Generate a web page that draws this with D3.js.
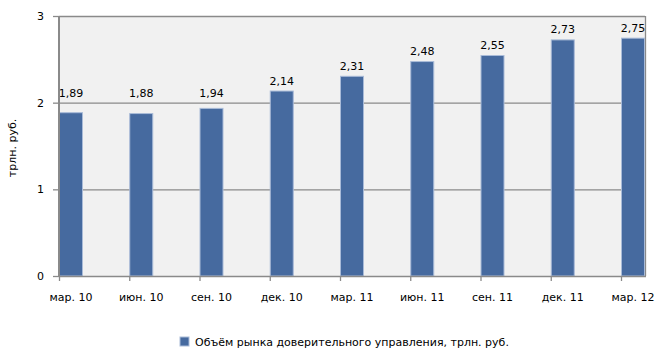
<!DOCTYPE html>
<html><head><meta charset="utf-8">
<script src="https://cdn.jsdelivr.net/npm/d3@7"></script>
<style>body{margin:0;background:#fff}svg{display:block}text{font-family:"DejaVu Sans",sans-serif;font-size:11px;fill:#000}</style>
</head><body>
<script>
const categories = ["мар. 10","июн. 10","сен. 10","дек. 10","мар. 11","июн. 11","сен. 11","дек. 11","мар. 12"];
const values = [1.89,1.88,1.94,2.14,2.31,2.48,2.55,2.73,2.75];
const yTicks = [0,1,2,3];
const seriesName = "Объём рынка доверительного управления, трлн. руб.";
const yTitle = "трлн. руб.";

const W=666,H=356;
const pL=59,pR=645,pT=16,pB=276,barW=24;
const svg=d3.select("body").append("svg").attr("width",W).attr("height",H);
const x=d3.scalePoint().domain(categories).range([pL,pR-barW]);
const y=d3.scaleLinear().domain([0,3]).range([pB,pT]);

svg.append("rect").attr("x",pL).attr("y",pT).attr("width",pR-pL).attr("height",pB-pT).attr("fill","#f1f1f1");
// gridlines
svg.selectAll(".grid").data(yTicks.filter(d=>d>0)).enter().append("line")
 .attr("x1",pL).attr("x2",pR).attr("y1",d=>y(d)+0.5).attr("y2",d=>y(d)+0.5)
 .attr("stroke","#8a8a8a").attr("stroke-width",1.3);
// right border
svg.append("line").attr("x1",pR+0.5).attr("x2",pR+0.5).attr("y1",pT).attr("y2",pB).attr("stroke","#8a8a8a").attr("stroke-width",1.3);

// bars
svg.selectAll(".bar").data(values).enter().append("rect")
 .attr("x",(d,i)=>x(categories[i])+0.5).attr("y",d=>y(d)+0.5)
 .attr("width",barW-1).attr("height",d=>pB-y(d)-0.5)
 .attr("fill","#466a9f").attr("stroke","#a9bbd8").attr("stroke-width",1);

// value labels
svg.selectAll(".vl").data(values).enter().append("text")
 .attr("x",(d,i)=>x(categories[i])+barW/2).attr("y",d=>Math.min(y(d),y(2))-6)
 .attr("text-anchor","middle").text(d=>d.toFixed(2).replace(".",","));

// y axis
const ya=svg.append("g").attr("transform",`translate(${pL},0)`)
 .call(d3.axisLeft(y).tickValues(yTicks).tickSize(6).tickPadding(9).tickFormat(d=>d));
ya.select(".domain").remove();
ya.selectAll("line").attr("stroke","#8a8a8a").attr("stroke-width",1.3);
ya.selectAll("text").attr("font-size",11).attr("font-family","DejaVu Sans").attr("fill","#000");
svg.append("line").attr("x1",pL).attr("x2",pL).attr("y1",pT).attr("y2",pB+1).attr("stroke","#8a8a8a").attr("stroke-width",2);

// x axis
const xa=svg.append("g").attr("transform",`translate(0,${pB})`)
 .call(d3.axisBottom(x).tickSize(5).tickFormat(()=>""));
xa.select(".domain").remove();
xa.selectAll("line").attr("stroke","#8a8a8a").attr("stroke-width",1.3);
svg.append("line").attr("x1",pL).attr("x2",pR+1).attr("y1",pB+0.5).attr("y2",pB+0.5).attr("stroke","#8a8a8a").attr("stroke-width",1.6);
svg.selectAll(".xl").data(categories).enter().append("text")
 .attr("x",d=>x(d)+barW/2).attr("y",pB+25).attr("text-anchor","middle").text(d=>d);

// y title
svg.append("text").attr("transform",`translate(16,${(pT+pB)/2+2}) rotate(-90)`).attr("text-anchor","middle").text(yTitle);

// legend
svg.append("rect").attr("x",180).attr("y",337).attr("width",9).attr("height",9).attr("fill","#466a9f").attr("stroke","#a9bbd8");
svg.append("text").attr("x",195).attr("y",346).text(seriesName);
</script>
</body></html>
